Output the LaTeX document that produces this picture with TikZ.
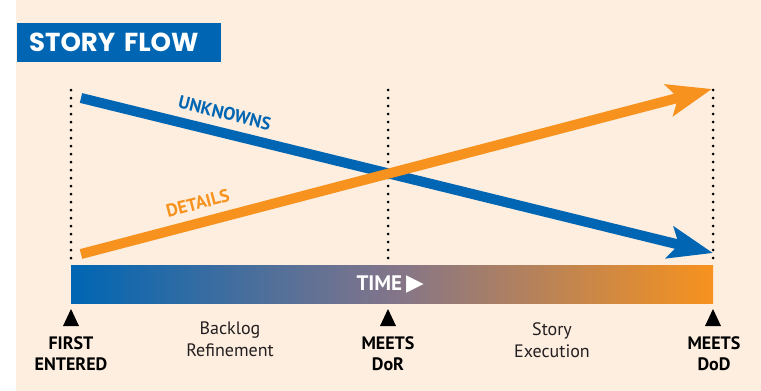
\documentclass[tikz,border=0pt]{standalone}
\usepackage{fontspec}
\setmainfont{PT Sans}
\newfontfamily\titlefont{Poppins}
\newfontfamily\symfont{DejaVu Sans}
\usepackage{xcolor}
\usetikzlibrary{arrows.meta}
\usetikzlibrary{positioning}
\definecolor{sfblue}{RGB}{0,102,179}
\definecolor{sforange}{RGB}{247,146,30}
\definecolor{sfcream}{RGB}{253,238,223}
\definecolor{sfmid}{RGB}{130,117,138}
\definecolor{sfink}{RGB}{35,31,32}
\tikzset{
    titlebox/.style = {fill=sfblue, text=white, font=\titlefont\bfseries\fontsize{26}{29}\selectfont, text width=180pt, align=left, inner xsep=12pt, minimum height=39pt, anchor=west},
    timebar/.style = {left color=sfblue, right color=sforange, middle color=sfmid, minimum width=642pt, minimum height=38pt, inner sep=0pt, anchor=north west},
    timelbl/.style = {text=white, font=\bfseries\fontsize{21}{24}\selectfont, inner sep=0pt},
    flow/.style = {line width=10pt, -{Stealth[length=44pt, width=32pt, inset=9pt]}},
    flowlbl/.style = {font=\bfseries\fontsize{18}{20}\selectfont, inner sep=0pt, sloped, above=8pt},
    guide/.style = {line width=3pt, line cap=round, dash pattern=on 0pt off 8pt},
    milestone/.style = {font=\bfseries\fontsize{18}{21}\selectfont, align=center, inner sep=0pt, anchor=north, text=black},
    phase/.style = {font=\fontsize{18}{22}\selectfont, align=center, inner sep=0pt, anchor=north, text=sfink}
}
\begin{document}
\begin{tikzpicture}[x=1pt, y=-1pt]
    \useasboundingbox (0,0) rectangle (761,391);
    \fill[sfcream] (16,0) rectangle (761,391);
    % title
    \node[titlebox] (title) at (17,42.5) {STORY FLOW};
    % time bar
    \node[timebar] (bar) at (71,265) {};
    \node[timelbl] (time) at ([xshift=-2pt]bar.center) {TIME\hspace{4pt}{\symfont\fontsize{23}{24}\selectfont ▶}};
    \coordinate (fe) at (71,303);
    \coordinate (dor) at (388,303);
    \coordinate (dod) at (713,303);
    % dotted guides and milestone marks
    \foreach \m in {fe,dor,dod} {
        \draw[guide] (\m) ++(0,-45) -- ++(0,-173);
        \fill (\m) ++(-8,23) -- ++(16,0) -- ++(-8,-17) -- cycle;
    }
    \node[milestone] (felbl) at (71,336) {FIRST\\ENTERED};
    \node[milestone] (dorlbl) at (388,336) {MEETS\\DoR};
    \node[milestone] (dodlbl) at (714,336) {MEETS\\DoD};
    \node[phase] (backlog) at (230,322) {Backlog\\Refinement};
    \node[phase] (execution) at (552,322) {Story\\Execution};
    % flows
    \coordinate (ustart) at (81,98);
    \coordinate (uend) at (713,253);
    \coordinate (dstart) at (81,254);
    \coordinate (dend) at (712,89);
    \draw[flow, sfblue] (ustart) -- node[flowlbl, pos=0.22, text=sfblue] (unk) {UNKNOWNS} (uend);
    \draw[flow, sforange] (dstart) -- node[flowlbl, pos=0.193, text=sforange] (det) {DETAILS} (dend);
\end{tikzpicture}
\end{document}
